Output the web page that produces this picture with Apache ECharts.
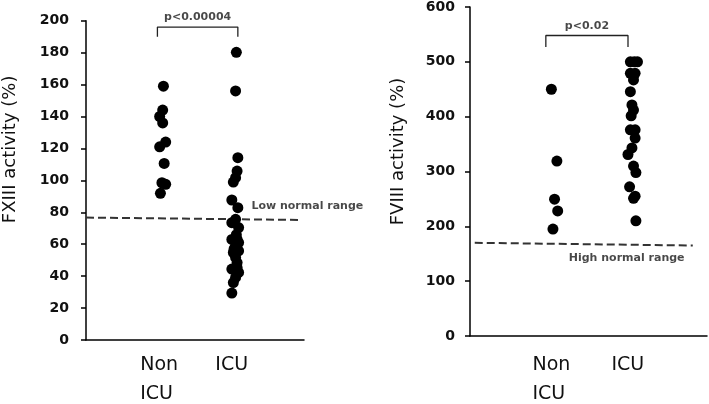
<!DOCTYPE html>
<html><head><meta charset="utf-8">
<script src="https://cdn.jsdelivr.net/npm/echarts@6/dist/echarts.min.js"></script>
<style>html,body{margin:0;padding:0;background:#fff}#c{width:709px;height:404px}</style>
</head><body><div id="c"></div>
<script>
// ---- FXIII (left panel) ----
const fx13NonX = [1.03, 1.02, 0.98, 1.02, 1.06, 0.98, 1.04, 1.01, 1.06, 0.99];
const fx13NonY = [159, 144, 140, 136, 124, 121, 110.6, 98.5, 97.5, 91.9];
const fx13IcuX = [2.00, 1.99, 2.02, 2.01, 1.99, 1.96, 1.94, 2.02, 1.99, 1.94, 2.03, 2.00, 1.94, 2.01, 2.03, 1.99, 1.97, 2.03, 1.96, 1.99, 2.01, 2.01, 1.94, 2.03, 1.99, 1.96, 1.94];
const fx13IcuY = [180.2, 156, 114.2, 105.8, 101.7, 98.9, 87.7, 82.9, 75.6, 73.5, 70.4, 66, 63, 63, 61, 59, 57, 55.8, 54.8, 51.7, 48.5, 45.4, 44.4, 42.3, 39.2, 36, 29.4];
const fx13LowNormal = [[0, 76.7], [2.85, 75.2]];
const fx13Bracket = [[0.95, 190], [0.95, 196], [2.02, 196], [2.02, 190]];
const fx13PText = 'p<0.00004';
const fx13RangeText = 'Low normal range';
const fx13Ticks = [0, 200, 20];

// ---- FVIII (right panel) ----
const f8NonX = [1.03, 1.10, 1.07, 1.11, 1.05];
const f8NonY = [450, 319, 249.5, 228, 195];
const f8IcuX = [2.03, 2.08, 2.12, 2.03, 2.09, 2.07, 2.03, 2.05, 2.07, 2.04, 2.03, 2.09, 2.09, 2.05, 2.00, 2.07, 2.10, 2.02, 2.09, 2.07, 2.10];
const f8IcuY = [500, 500, 500, 479, 479, 467, 445.6, 421.5, 412, 401.6, 376, 376, 361, 343, 331, 310, 298, 272, 255, 251, 210];
const f8HighNormal = [[0.06, 170], [2.82, 165]];
const f8Bracket = [[0.96, 527], [0.96, 548], [2.00, 548], [2.00, 527]];
const f8PText = 'p<0.02';
const f8RangeText = 'High normal range';
const f8Ticks = [0, 600, 100];

const categories = ['Non\nICU', 'ICU'];
const yTitles = ['FXIII activity (%)', 'FVIII activity (%)'];

const FONT = 'DejaVu Sans';
const zip = (xs, ys) => xs.map((x, i) => [x, ys[i]]);

function xAxis(gi, max, W, margin) {
  return {
    type: 'value', gridIndex: gi, min: 0, max: max, interval: 1,
    axisLine: { show: true, lineStyle: { color: '#000', width: 1.5 } },
    axisTick: { show: false }, splitLine: { show: false },
    axisLabel: {
      margin: margin, showMaxLabel: false,
      formatter: v => {
        const c = categories[Math.round(v) - 1];
        if (!c || Math.abs(v - Math.round(v)) > 1e-6) return '';
        return c.split('\n').map(s => '{a|' + s + '}').join('\n');
      },
      rich: { a: { fontFamily: FONT, fontSize: 19, color: '#111', width: W, align: 'left', lineHeight: 29 } }
    }
  };
}
function yAxis(gi, t, title, gap, shift, margin) {
  return {
    type: 'value', gridIndex: gi, min: t[0], max: t[1], interval: t[2],
    axisLine: { show: true, lineStyle: { color: '#000', width: 1.5 } },
    axisTick: { show: true, inside: false, length: 5, lineStyle: { color: '#000', width: 1.5 } },
    splitLine: { show: false },
    axisLabel: { margin: margin, fontFamily: FONT, fontWeight: 'bold', fontSize: 14, color: '#111' },
    name: title, nameLocation: 'middle', nameGap: gap, nameRotate: 90,
    nameTextStyle: { fontFamily: FONT, fontSize: 18, color: '#111', padding: [0, 0, 0, shift] }
  };
}
const dots = (xi, data) => ({ type: 'scatter', xAxisIndex: xi, yAxisIndex: xi, data, symbol: 'circle', symbolSize: 11, itemStyle: { color: '#000', opacity: 1 }, z: 5 });
const dash = (xi, data) => ({ type: 'line', xAxisIndex: xi, yAxisIndex: xi, data, symbol: 'none', lineStyle: { color: '#333', width: 2, type: [8, 4] } });
const bracket = (xi, data) => ({ type: 'line', xAxisIndex: xi, yAxisIndex: xi, data, symbol: 'none', lineStyle: { color: '#222', width: 1.3 } });
const textAt = (xi, pt, text, pos, size, dist) => ({
  type: 'scatter', xAxisIndex: xi, yAxisIndex: xi, data: [pt], symbolSize: 0, clip: false, silent: true,
  label: { show: true, formatter: text, position: pos, distance: dist, fontFamily: FONT, fontWeight: 'bold', fontSize: size, color: '#1a1a1a' }
});

const chart = echarts.init(document.getElementById('c'), null, { renderer: 'canvas' });
chart.setOption({
  animation: false,
  grid: [
    { left: 80, right: 405, top: 20.7, bottom: 63 },
    { left: 470, right: 2, top: 6.5, bottom: 66.3 }
  ],
  xAxis: [xAxis(0, 2.9, 42, 11), xAxis(1, 3, 33, 15)],
  yAxis: [yAxis(0, fx13Ticks, yTitles[0], 67, 62, 17), yAxis(1, f8Ticks, yTitles[1], 63, 40, 15)],
  series: [
    dash(0, fx13LowNormal),
    bracket(0, fx13Bracket),
    dots(0, zip(fx13NonX, fx13NonY)),
    dots(0, zip(fx13IcuX, fx13IcuY)),
    textAt(0, [(fx13Bracket[1][0] + fx13Bracket[2][0]) / 2, fx13Bracket[1][1]], fx13PText, 'top', 11, 4),
    textAt(0, [2.2, 83.75], fx13RangeText, 'right', 11, 0),
    dash(1, f8HighNormal),
    bracket(1, f8Bracket),
    dots(1, zip(f8NonX, f8NonY)),
    dots(1, zip(f8IcuX, f8IcuY)),
    textAt(1, [(f8Bracket[1][0] + f8Bracket[2][0]) / 2, f8Bracket[1][1]], f8PText, 'top', 11, 4),
    textAt(1, [1.25, 142.6], f8RangeText, 'right', 11, 0)
  ]
});
</script></body></html>
